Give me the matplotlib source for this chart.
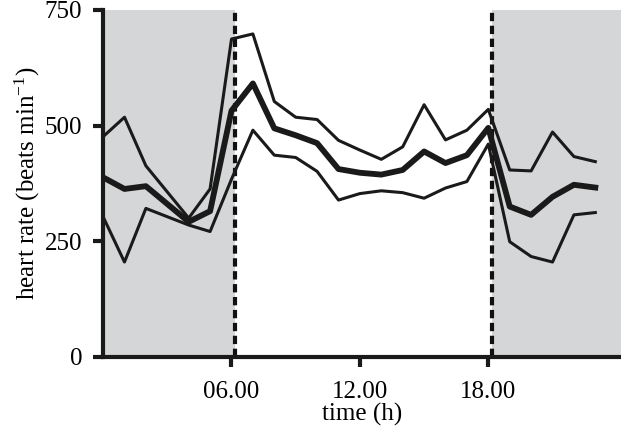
"""Heart rate over the day: mean with upper and lower bounds, night shaded."""

from __future__ import annotations

import matplotlib

matplotlib.use("Agg")

import matplotlib.pyplot as plt

# hour of day (no reading at 03.00)
hours = [0, 1, 2, 4, 5, 6, 7, 8, 9, 10, 11, 12, 13, 14, 15, 16, 17, 18, 19, 20, 21, 22, 23]

upper_bpm = [476, 518, 413, 300, 363, 687, 698, 552, 518, 513, 468, 447, 427, 454,
             545, 469, 490, 535, 404, 402, 486, 433, 422]
mean_bpm = [388, 363, 369, 292, 315, 532, 591, 494, 479, 462, 406, 398, 394, 404,
            444, 419, 436, 495, 325, 307, 346, 372, 366]
lower_bpm = [303, 205, 321, 285, 271, 384, 490, 436, 431, 401, 339, 353, 359, 355,
             343, 365, 379, 460, 249, 217, 205, 307, 312]

lights_on = 6.15
lights_off = 18.15
x_end = 24.2

x_ticks = [6, 12, 18]
x_tick_labels = ["06.00", "12.00", "18.00"]
y_ticks = [0, 250, 500, 750]


def main() -> None:
    plt.rcParams["font.family"] = "Liberation Serif"
    plt.rcParams["mathtext.fontset"] = "custom"
    plt.rcParams["mathtext.rm"] = "Liberation Serif"
    plt.rcParams["mathtext.it"] = "Liberation Serif:italic"

    fig = plt.figure(figsize=(6.21, 4.29), dpi=100)
    ax = fig.add_axes([0.166, 0.168, 0.834, 0.809])

    night = "#d5d6d8"
    ax.axvspan(0, lights_on, color=night, lw=0, zorder=0)
    ax.axvspan(lights_off, x_end, color=night, lw=0, zorder=0)
    for x in (lights_on, lights_off):
        ax.axvline(x, color="#111111", lw=3, dashes=(2, 1.1), zorder=1)

    ax.plot(hours, upper_bpm, color="#1a1a1a", lw=2.2, zorder=2)
    ax.plot(hours, lower_bpm, color="#1a1a1a", lw=2.2, zorder=2)
    ax.plot(hours, mean_bpm, color="#1a1a1a", lw=4.2, zorder=3)

    ax.set_xlim(0, x_end)
    ax.set_ylim(0, 750)
    ax.set_xticks(x_ticks)
    ax.set_xticklabels(x_tick_labels)
    ax.set_yticks(y_ticks)

    for side in ("top", "right"):
        ax.spines[side].set_visible(False)
    for side in ("left", "bottom"):
        ax.spines[side].set_linewidth(3)
        ax.spines[side].set_color("#1a1a1a")
    ax.tick_params(direction="out", length=7, width=3, color="#1a1a1a",
                   labelsize=18)
    ax.tick_params(axis="x", pad=10)
    ax.tick_params(axis="y", pad=8)

    ax.set_xlabel("time (h)", fontsize=18, labelpad=0)
    ax.set_ylabel("heart rate (beats min$^{-1}$)", fontsize=18, labelpad=2)

    fig.savefig("out.png", dpi=100)
    plt.close(fig)


if __name__ == "__main__":
    main()
